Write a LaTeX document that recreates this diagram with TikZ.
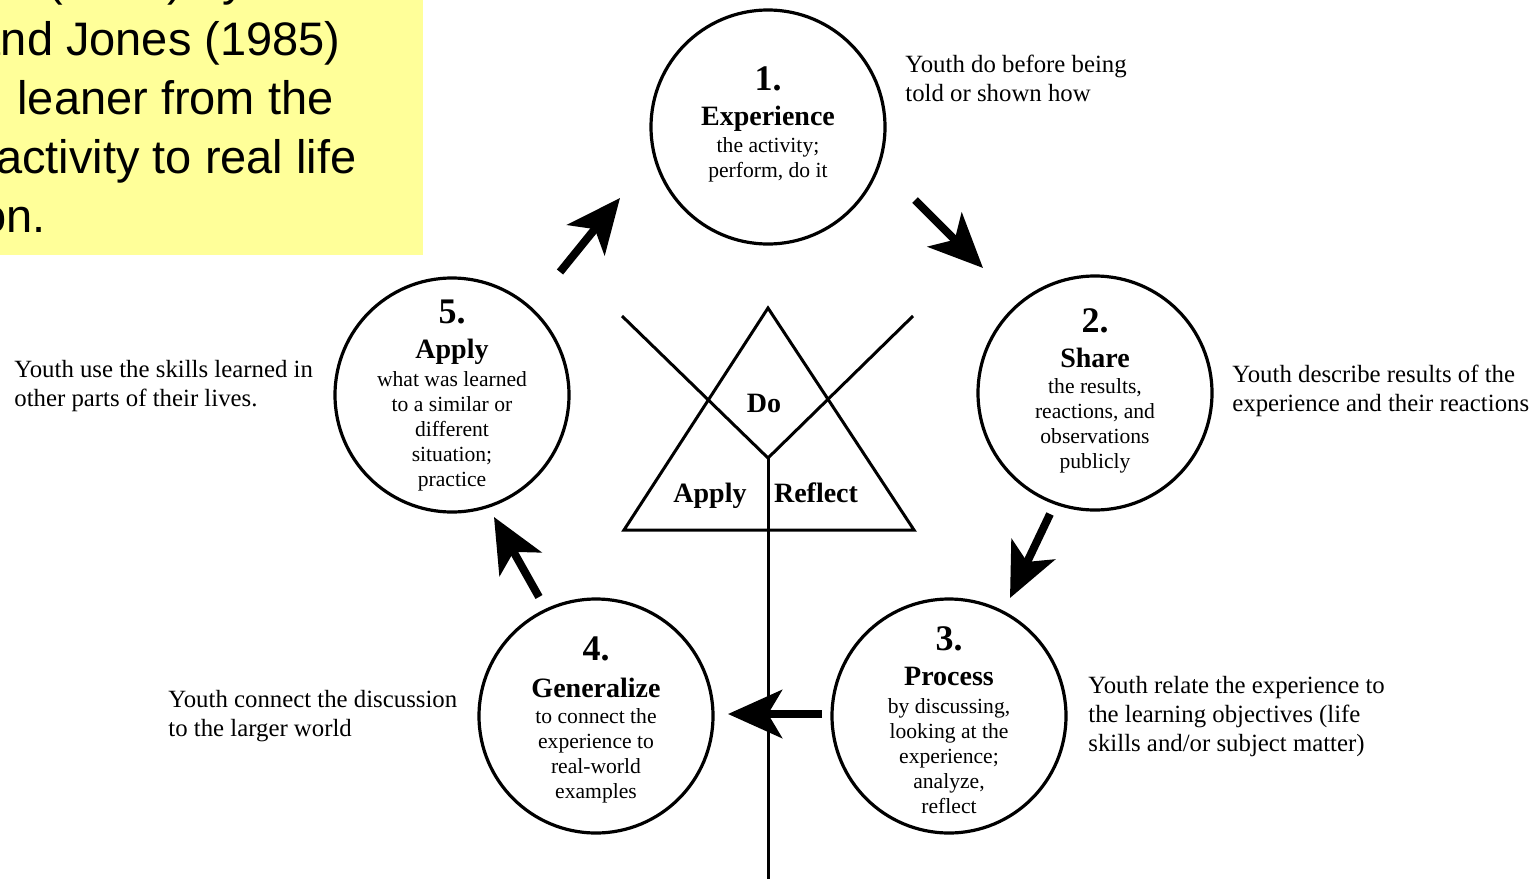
\documentclass[tikz,border=0pt]{standalone}
\usepackage{fontspec}
\setmainfont{Liberation Serif}
\newfontfamily\notefont{Liberation Sans}
\usetikzlibrary{arrows.meta}
\definecolor{noteyellow}{RGB}{255,255,153}

\tikzset{
  stage/.style={draw, circle, line width=1.6pt, minimum size=117pt, inner sep=0pt},
  stagenum/.style={anchor=base, inner sep=0pt, font=\bfseries\fontsize{18}{20}\selectfont},
  stagetitle/.style={anchor=base, inner sep=0pt, font=\bfseries\fontsize{14}{16}\selectfont},
  stagebody/.style={anchor=north, inner sep=0pt, align=center, font=\fontsize{10.8}{12.5}\selectfont},
  sidenote/.style={anchor=north west, inner sep=0pt, align=left, font=\fontsize{12.4}{14.5}\selectfont},
  bigarrow/.style={line width=4pt, -{Stealth[length=27pt, width=24pt, inset=7pt]}},
  tri/.style={line width=1.5pt, line join=miter},
  trilabel/.style={anchor=base, inner sep=0pt, font=\bfseries\fontsize{14}{16}\selectfont},
  boxline/.style={anchor=base east, inner sep=0pt, font=\notefont\fontsize{23.5}{28}\selectfont}
}

\begin{document}
\begin{tikzpicture}[x=0.5pt, y=-0.5pt]
  \useasboundingbox (0,0) rectangle (1536,878);
  %
  \fill[noteyellow] (0,0) rectangle (423,255);
  \node[boxline] (box0) at (246,-4) {(1984) by};
  \node[boxline] (box1) at (341,55) {and Jones (1985)};
  \node[boxline] (box2) at (334,114) {leaner from the};
  \node[boxline] (box3) at (357,173) {activity to real life};
  \node[boxline] (box4) at (46,232) {situation.};
  %
  \coordinate (top) at (768,308);
  \coordinate (left) at (624,530);
  \coordinate (right) at (914,530);
  \coordinate (hub) at (768,458);
  \draw[tri] (top) -- (left) -- (right) -- cycle;
  \draw[tri] (622,316) -- (hub) -- (913,316);
  \draw[tri] (hub) -- (768,890);
  \node[trilabel] (do) at (764,412) {Do};
  \node[trilabel] (doapply) at (710,502) {Apply};
  \node[trilabel] (doreflect) at (816,502) {Reflect};
  %
  \node[stage] (exp) at (768,127) {};
  \node[stagenum] (expnum) at (768,90) {1.};
  \node[stagetitle] (exptitle) at (768,125) {Experience};
  \node[stagebody] (expbody) at (768,137) {the activity;\\perform, do it};
  %
  \node[stage] (share) at (1095,393) {};
  \node[stagenum] (sharenum) at (1095,332) {2.};
  \node[stagetitle] (sharetitle) at (1095,367) {Share};
  \node[stagebody] (sharebody) at (1095,378) {the results,\\reactions, and\\observations\\publicly};
  %
  \node[stage] (proc) at (949,716) {};
  \node[stagenum] (procnum) at (949,650) {3.};
  \node[stagetitle] (proctitle) at (949,685) {Process};
  \node[stagebody] (procbody) at (949,698) {by discussing,\\looking at the\\experience;\\analyze,\\reflect};
  %
  \node[stage] (gen) at (596,716) {};
  \node[stagenum] (gennum) at (596,660) {4.};
  \node[stagetitle] (gentitle) at (596,697) {Generalize};
  \node[stagebody] (genbody) at (596,708) {to connect the\\experience to\\real-world\\examples};
  %
  \node[stage] (apply) at (452,395) {};
  \node[stagenum] (applynum) at (452,323) {5.};
  \node[stagetitle] (applytitle) at (452,358) {Apply};
  \node[stagebody] (applybody) at (452,371) {what was learned\\to a similar or\\different\\situation;\\practice};
  %
  \node[sidenote] (expnote) at (905,55) {Youth do before being\\told or shown how};
  \node[sidenote] (sharenote) at (1232,365) {Youth describe results of the\\experience and their reactions};
  \node[sidenote] (procnote) at (1088,676) {Youth relate the experience to\\the learning objectives (life\\skills and/or subject matter)};
  \node[sidenote] (gennote) at (168,690) {Youth connect the discussion\\to the larger world};
  \node[sidenote] (applynote) at (14,360) {Youth use the skills learned in\\other parts of their lives.};
  %
  \coordinate (a51s) at (560,272);  \coordinate (a51e) at (620,198);
  \coordinate (a12s) at (915,200);  \coordinate (a12e) at (983,268);
  \coordinate (a23s) at (1050,514); \coordinate (a23e) at (1010,598);
  \coordinate (a34s) at (822,714);  \coordinate (a34e) at (728,714);
  \coordinate (a45s) at (539,597);  \coordinate (a45e) at (494,517);
  \foreach \s/\e in {a51s/a51e, a12s/a12e, a23s/a23e, a34s/a34e, a45s/a45e}
    \draw[bigarrow] (\s) -- (\e);
\end{tikzpicture}
\end{document}
